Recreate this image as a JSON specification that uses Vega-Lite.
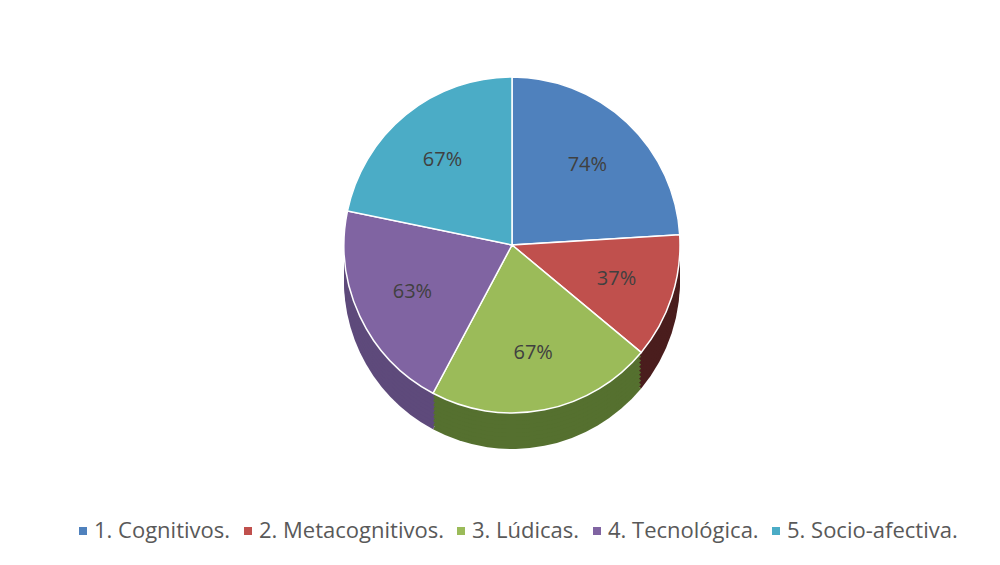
{
  "$schema": "https://vega.github.io/schema/vega-lite/v6.json",
  "width": 976,
  "height": 490,
  "autosize": {"type": "none"},
  "padding": {"left": 24, "top": 0, "right": 0, "bottom": 75},
  "background": "white",
  "config": {"view": {"stroke": null}, "font": "Open Sans"},
  "datasets": {
    "estrategias": [
      {"categoria": "1. Cognitivos.", "valor": 0.74},
      {"categoria": "2. Metacognitivos.", "valor": 0.37},
      {"categoria": "3. Lúdicas.", "valor": 0.67},
      {"categoria": "4. Tecnológica.", "valor": 0.63},
      {"categoria": "5. Socio-afectiva.", "valor": 0.67}
    ]
  },
  "data": {"name": "estrategias"},
  "encoding": {
    "theta": {"field": "valor", "type": "quantitative", "stack": true},
    "order": {"field": "categoria", "type": "nominal"}
  },
  "layer": [
    {
      "mark": {"type": "arc", "outerRadius": 168, "yOffset": 36, "strokeWidth": 0},
      "encoding": {"color": {"field": "categoria", "type": "nominal", "legend": null, "scale": {"range": ["#2f4f78", "#4a1d1d", "#55702f", "#5e4a7b", "#2e6e80"]}}}
    },
    {
      "mark": {"type": "arc", "outerRadius": 168, "yOffset": 32, "strokeWidth": 0},
      "encoding": {"color": {"field": "categoria", "type": "nominal", "legend": null, "scale": {"range": ["#2f4f78", "#4a1d1d", "#55702f", "#5e4a7b", "#2e6e80"]}}}
    },
    {
      "mark": {"type": "arc", "outerRadius": 168, "yOffset": 28, "strokeWidth": 0},
      "encoding": {"color": {"field": "categoria", "type": "nominal", "legend": null, "scale": {"range": ["#2f4f78", "#4a1d1d", "#55702f", "#5e4a7b", "#2e6e80"]}}}
    },
    {
      "mark": {"type": "arc", "outerRadius": 168, "yOffset": 24, "strokeWidth": 0},
      "encoding": {"color": {"field": "categoria", "type": "nominal", "legend": null, "scale": {"range": ["#2f4f78", "#4a1d1d", "#55702f", "#5e4a7b", "#2e6e80"]}}}
    },
    {
      "mark": {"type": "arc", "outerRadius": 168, "yOffset": 20, "strokeWidth": 0},
      "encoding": {"color": {"field": "categoria", "type": "nominal", "legend": null, "scale": {"range": ["#2f4f78", "#4a1d1d", "#55702f", "#5e4a7b", "#2e6e80"]}}}
    },
    {
      "mark": {"type": "arc", "outerRadius": 168, "yOffset": 16, "strokeWidth": 0},
      "encoding": {"color": {"field": "categoria", "type": "nominal", "legend": null, "scale": {"range": ["#2f4f78", "#4a1d1d", "#55702f", "#5e4a7b", "#2e6e80"]}}}
    },
    {
      "mark": {"type": "arc", "outerRadius": 168, "yOffset": 12, "strokeWidth": 0},
      "encoding": {"color": {"field": "categoria", "type": "nominal", "legend": null, "scale": {"range": ["#2f4f78", "#4a1d1d", "#55702f", "#5e4a7b", "#2e6e80"]}}}
    },
    {
      "mark": {"type": "arc", "outerRadius": 168, "yOffset": 8, "strokeWidth": 0},
      "encoding": {"color": {"field": "categoria", "type": "nominal", "legend": null, "scale": {"range": ["#2f4f78", "#4a1d1d", "#55702f", "#5e4a7b", "#2e6e80"]}}}
    },
    {
      "mark": {"type": "arc", "outerRadius": 168, "yOffset": 4, "strokeWidth": 0},
      "encoding": {"color": {"field": "categoria", "type": "nominal", "legend": null, "scale": {"range": ["#2f4f78", "#4a1d1d", "#55702f", "#5e4a7b", "#2e6e80"]}}}
    },
    {
      "mark": {"type": "arc", "outerRadius": 168, "stroke": "white", "strokeWidth": 1.5},
      "encoding": {
        "color": {
          "field": "categoria", "type": "nominal",
          "scale": {"range": ["#4f81bd", "#c0504d", "#9bbb59", "#8064a2", "#4bacc6"]},
          "legend": {
            "orient": "none", "direction": "horizontal", "legendX": 48, "legendY": 520,
            "title": null, "symbolType": "square", "symbolSize": 64, "symbolStrokeWidth": 0,
            "labelFontSize": 22, "labelColor": "#595959", "labelFont": "Open Sans",
            "columnPadding": 6, "labelOffset": 0, "padding": 0, "labelLimit": 400
          }
        }
      }
    },
    {
      "mark": {"type": "text", "radius": 110, "fontSize": 20, "color": "#404040", "font": "Open Sans"},
      "encoding": {
        "detail": {"field": "categoria", "type": "nominal"},
        "text": {"field": "valor", "type": "quantitative", "format": ".0%"}
      }
    }
  ],
  "resolve": {"scale": {"color": "independent"}}
}
